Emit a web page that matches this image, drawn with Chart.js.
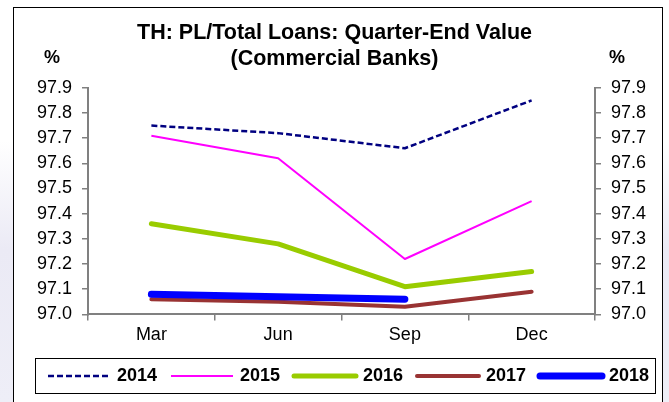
<!DOCTYPE html>
<html>
<head>
<meta charset="utf-8">
<title>TH: PL/Total Loans</title>
<script src="https://cdn.jsdelivr.net/npm/chart.js@4.4.1/dist/chart.umd.min.js"></script>
<style>
    html, body {
        margin: 0;
        padding: 0;
    }
    body {
        width: 669px;
        height: 402px;
        position: relative;
        overflow: hidden;
        background: linear-gradient(to bottom, #ffffff 0%, #ffffff 35%, #ebeaf5 62%, #eeeef7 100%);
    }
    #frame {
        position: absolute;
        left: 13px;
        top: 7px;
        width: 648px;
        height: 420px;
        border: 1px solid #000;
        background: #fff;
    }
    #wrap {
        position: absolute;
        left: 0;
        top: 0;
        width: 669px;
        height: 402px;
    }
</style>
</head>
<body>
<div id="frame"></div>
<div id="wrap"><canvas id="pl-chart"></canvas></div>
<script>
// 季末数据（%）
const quarters = ['Mar', 'Jun', 'Sep', 'Dec'];
const years = ['2014', '2015', '2016', '2017', '2018'];
const pl2014 = [97.75, 97.72, 97.66, 97.85];
const pl2015 = [97.71, 97.62, 97.22, 97.45];
const pl2016 = [97.36, 97.28, 97.11, 97.17];
const pl2017 = [97.06, 97.05, 97.03, 97.09];
const pl2018 = [97.08, 97.07, 97.06, null];

// 纵轴范围
const yMin = 97.0;
const yMax = 97.9;
const yStep = 0.1;

const FONT = '"Liberation Sans", Arial, sans-serif';
const AXIS_GRAY = '#808080';

// 每条线的样式
const seriesStyle = [
    { color: '#000080', width: 2.5, dash: [6, 3], cap: 'butt' },
    { color: '#ff00ff', width: 2, dash: [], cap: 'butt' },
    { color: '#99cc00', width: 5, dash: [], cap: 'round' },
    { color: '#993333', width: 4, dash: [], cap: 'round' },
    { color: '#0000ff', width: 7, dash: [], cap: 'round' }
];
const seriesData = [pl2014, pl2015, pl2016, pl2017, pl2018];

const datasets = years.map((year, i) => ({
    label: year,
    data: seriesData[i],
    borderColor: seriesStyle[i].color,
    backgroundColor: seriesStyle[i].color,
    borderWidth: seriesStyle[i].width,
    borderDash: seriesStyle[i].dash,
    borderCapStyle: seriesStyle[i].cap,
    borderJoinStyle: 'round',
    pointRadius: 0,
    pointHoverRadius: 0,
    tension: 0,
    fill: false,
    spanGaps: false,
    // 后面的年份画在上层
    order: years.length - i
}));

// 坐标轴上方的 % 单位
const unitLabels = {
    id: 'unitLabels',
    afterDraw(chart) {
        const ctx = chart.ctx;
        ctx.save();
        ctx.font = 'bold 18px ' + FONT;
        ctx.fillStyle = '#000';
        ctx.textAlign = 'center';
        ctx.textBaseline = 'middle';
        ctx.fillText('%', 52, 58);
        ctx.fillText('%', 617, 58);
        ctx.restore();
    }
};

// 底部带边框的图例
const boxLegend = {
    id: 'boxLegend',
    afterDraw(chart) {
        const ctx = chart.ctx;
        const y = 376;
        ctx.save();
        ctx.strokeStyle = '#000';
        ctx.lineWidth = 1;
        ctx.strokeRect(35.5, 358.5, 620, 35);
        ctx.font = 'bold 18px ' + FONT;
        ctx.textAlign = 'left';
        ctx.textBaseline = 'middle';
        chart.data.datasets.forEach((ds, i) => {
            const x = 48 + i * 123;
            ctx.beginPath();
            ctx.strokeStyle = ds.borderColor;
            ctx.lineWidth = ds.borderWidth;
            ctx.lineCap = ds.borderCapStyle;
            ctx.setLineDash(ds.borderDash);
            ctx.moveTo(x, y);
            ctx.lineTo(x + 62, y);
            ctx.stroke();
            ctx.setLineDash([]);
            ctx.fillStyle = '#000';
            ctx.fillText(ds.label, x + 69, y + 0.5);
        });
        ctx.restore();
    }
};

function yAxis(position, width) {
    return {
        type: 'linear',
        position: position,
        min: yMin,
        max: yMax,
        ticks: {
            stepSize: yStep,
            color: '#000',
            padding: 10,
            font: { family: FONT, size: 18 },
            callback: v => Number(v).toFixed(1)
        },
        grid: {
            drawOnChartArea: false,
            drawTicks: true,
            tickLength: 6,
            color: AXIS_GRAY,
            lineWidth: 1.5
        },
        border: { color: AXIS_GRAY, width: 2 },
        afterFit(scale) {
            scale.width = width;
        }
    };
}

new Chart(document.getElementById('pl-chart'), {
    type: 'line',
    data: {
        labels: quarters,
        datasets: datasets
    },
    options: {
        responsive: true,
        maintainAspectRatio: false,
        animation: false,
        layout: {
            padding: { top: 0, left: 0, right: 0, bottom: 52 }
        },
        plugins: {
            legend: { display: false },
            tooltip: { enabled: false },
            title: {
                display: true,
                text: ['TH: PL/Total Loans: Quarter-End Value', '(Commercial Banks)'],
                color: '#000',
                font: { family: FONT, size: 21.5, weight: 'bold', lineHeight: 1.17 },
                padding: { top: 21, bottom: 16.5 }
            }
        },
        scales: {
            x: {
                type: 'category',
                offset: true,
                ticks: {
                    color: '#000',
                    padding: 4,
                    font: { family: FONT, size: 18 }
                },
                grid: {
                    offset: true,
                    drawOnChartArea: false,
                    drawTicks: true,
                    tickLength: 6,
                    color: AXIS_GRAY,
                    lineWidth: 1.5
                },
                border: { color: AXIS_GRAY, width: 2 }
            },
            y: yAxis('left', 88),
            y2: yAxis('right', 74)
        }
    },
    plugins: [unitLabels, boxLegend]
});
</script>
</body>
</html>
